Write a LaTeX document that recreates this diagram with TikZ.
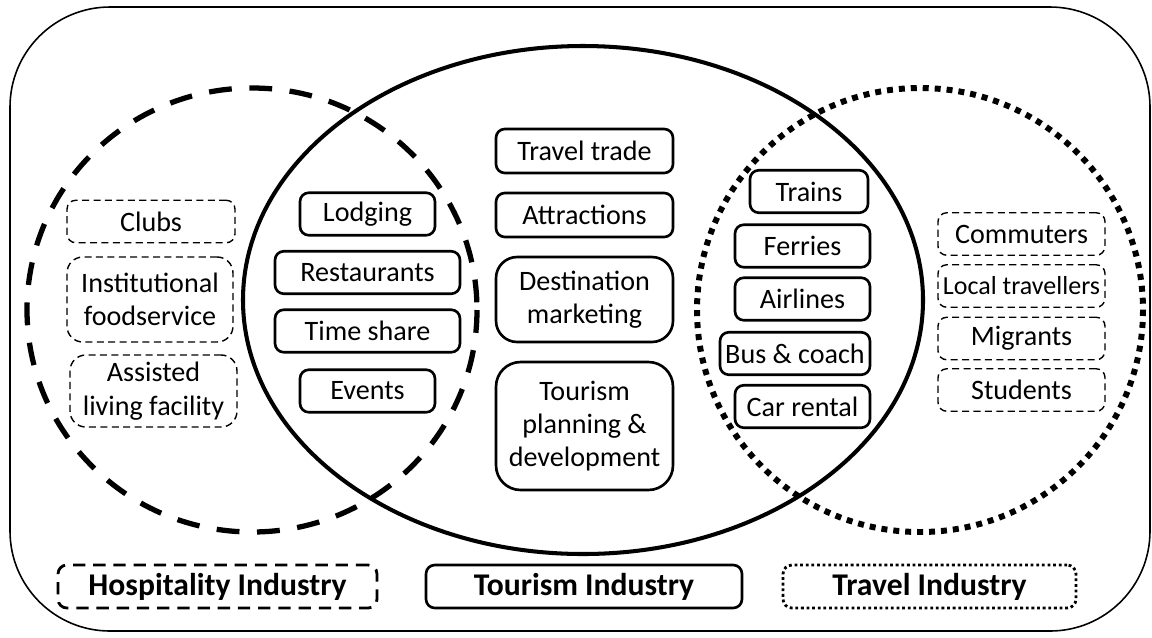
\documentclass[tikz,border=0pt]{standalone}
\usepackage{fontspec}
\setmainfont{Carlito}
\usepackage{tikz}

\begin{document}
\begin{tikzpicture}[x=0.02cm,y=-0.02cm,
  every node/.style={font=\fontsize{16}{19}\selectfont, align=center, inner sep=0pt},
  tourbox/.style={draw, line width=1.5pt, rounded corners=5pt, minimum height=0.85cm},
  sidebox/.style={draw, line width=0.8pt, dash pattern=on 4pt off 2.5pt, rounded corners=5pt, minimum height=0.85cm},
  keybox/.style={draw, rounded corners=5pt, minimum height=0.86cm, font=\fontsize{18}{21}\selectfont\bfseries},
  hospline/.style={line width=3pt, dash pattern=on 13pt off 10pt},
  travline/.style={line width=3.4pt, dash pattern=on 3.4pt off 3.4pt}]
\useasboundingbox (0,0) rectangle (1152,637);
\draw[line width=0.9pt, rounded corners=2cm] (10,7) rectangle (1150,631);
\draw[hospline] (252,310) ellipse [x radius=225, y radius=222];
\draw[line width=2.3pt] (583,300) ellipse [x radius=340, y radius=254];
\draw[travline] (920,310) ellipse [x radius=223, y radius=222];
\node[sidebox, minimum width=3.36cm] (clubs) at (151,221.5) {Clubs};
\node[sidebox, minimum width=3.32cm, minimum height=1.7cm, rounded corners=9pt] (inst) at (150,299.5) {Institutional\\foodservice};
\node[sidebox, minimum width=3.34cm, minimum height=1.44cm, rounded corners=9pt] (assist) at (153.5,391) {Assisted\\living facility};
\node[tourbox, minimum width=2.7cm] (lodging) at (367.5,214) {Lodging};
\node[tourbox, minimum width=3.7cm] (rest) at (367.5,272.5) {Restaurants};
\node[tourbox, minimum width=3.7cm] (timeshare) at (367.5,331) {Time share};
\node[tourbox, minimum width=2.7cm] (events) at (367.5,391) {Events};
\node[tourbox, minimum width=3.54cm, minimum height=0.88cm] (trade) at (584.5,151) {Travel trade};
\node[tourbox, minimum width=3.54cm, minimum height=0.88cm] (attract) at (584.5,215) {Attractions};
\node[tourbox, minimum width=3.54cm, minimum height=1.7cm, rounded corners=12pt] (destin) at (584.5,299.5) {Destination\\marketing};
\node[tourbox, minimum width=3.54cm, minimum height=2.56cm, rounded corners=14pt] (planning) at (584.5,426) {Tourism\\planning \&\\development};
\node[tourbox, minimum width=2.36cm] (trains) at (809,191.5) {Trains};
\node[tourbox, minimum width=2.7cm] (ferries) at (802.5,246) {Ferries};
\node[tourbox, minimum width=2.7cm] (airlines) at (802.5,299) {Airlines};
\node[tourbox, minimum width=3.0cm] (bus) at (795,353.5) {Bus \& coach};
\node[tourbox, minimum width=2.7cm] (car) at (802.5,406.5) {Car rental};
\node[sidebox, minimum width=3.34cm] (commuters) at (1021.5,234) {Commuters};
\node[sidebox, minimum width=3.34cm, font=\fontsize{14.8}{18}\selectfont] (local) at (1021.5,286) {Local travellers};
\node[sidebox, minimum width=3.34cm] (migrants) at (1021.5,338.5) {Migrants};
\node[sidebox, minimum width=3.34cm] (students) at (1021.5,390) {Students};
\node[keybox, line width=1.6pt, dash pattern=on 7pt off 4.5pt, minimum width=6.38cm] (hosp) at (217.5,586.5) {Hospitality Industry};
\node[keybox, line width=1.5pt, minimum width=6.32cm] (tour) at (584,586.5) {Tourism Industry};
\node[keybox, line width=1.6pt, dash pattern=on 1.6pt off 1.6pt, minimum width=5.86cm] (trav) at (929.5,586.5) {Travel Industry};
\end{tikzpicture}
\end{document}
